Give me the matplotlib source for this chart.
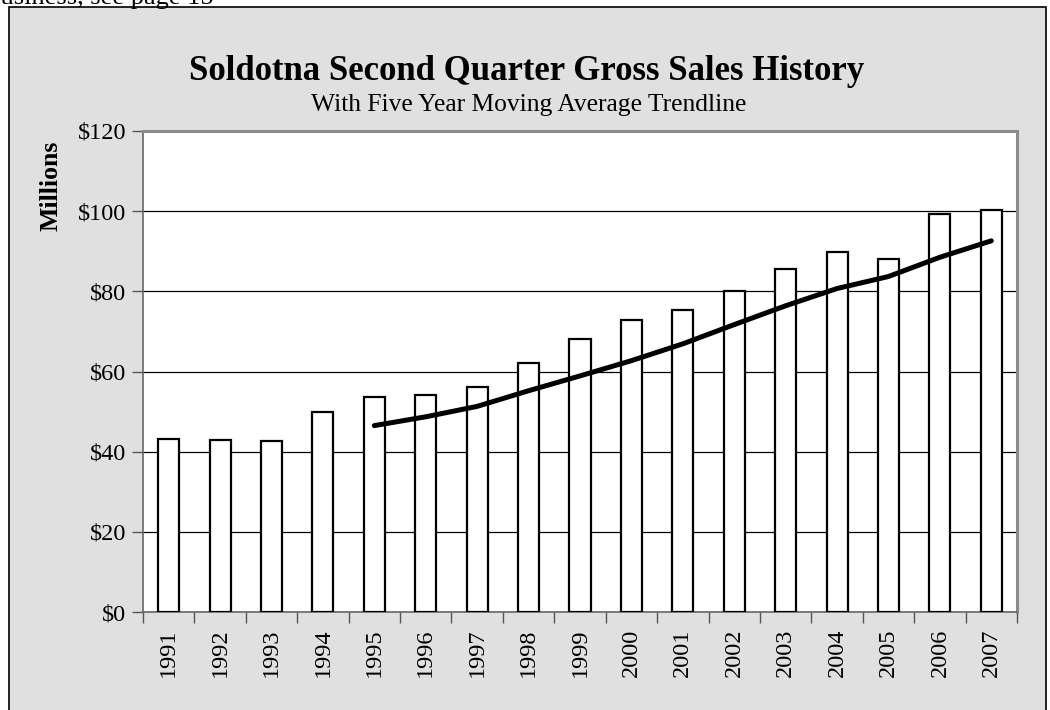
import numpy as np
import matplotlib.pyplot as plt
from matplotlib.patches import Rectangle

plt.rcParams['font.family'] = ['Liberation Serif', 'DejaVu Serif']

# second quarter gross sales, millions of dollars
years = ['1991', '1992', '1993', '1994', '1995', '1996', '1997', '1998', '1999',
         '2000', '2001', '2002', '2003', '2004', '2005', '2006', '2007']
sales = [43.2, 42.9, 42.7, 49.8, 53.7, 54.2, 56.2, 62.0, 68.2,
         72.8, 75.3, 80.0, 85.5, 89.7, 88.0, 99.4, 100.2]

# five year moving average, starts at 1995
trend_years = years[4:]
trend = [46.5, 48.7, 51.3, 55.2, 58.9, 62.7, 66.9, 71.7, 76.4, 80.7, 83.7, 88.5, 92.6]

y_ticks = [0, 20, 40, 60, 80, 100, 120]
y_labels = ['$0', '$20', '$40', '$60', '$80', '$100', '$120']

W, H = 1050, 710
fig = plt.figure(figsize=(W / 100, H / 100), dpi=100)
fig.patch.set_facecolor('white')

# grey chart frame, runs off the bottom of the page
fig.patches.append(Rectangle((9 / W, -0.05), (1046 - 9) / W, 1.05 - 7 / H,
                             transform=fig.transFigure, facecolor='#e0e0e0',
                             edgecolor='black', lw=1.2, zorder=-5))

# cut-off text from the page above
fig.text(-17 / W, 1 - 4 / H, 'Business, see page 15', fontsize=19, va='baseline', ha='left')

ax = fig.add_axes([143 / W, 1 - 612 / H, (1017 - 143) / W, (612 - 131) / H])
ax.set_zorder(2)
ax.set_facecolor('white')

x = np.arange(len(years))
ax.bar(x, sales, width=0.41, color='white', edgecolor='black', lw=1.6, zorder=3)
xt = np.arange(len(trend_years)) + 4
ax.plot(xt, trend, color='black', lw=3.6, solid_capstyle='round', zorder=4)

ax.set_xlim(-0.5, len(years) - 0.5)
ax.set_ylim(0, 120)
ax.set_yticks(y_ticks)
ax.set_yticklabels(y_labels, fontsize=17.5)
ax.yaxis.grid(True, color='black', lw=0.9)
ax.set_axisbelow(True)

# tick marks sit between categories, labels at centres
ax.set_xticks(np.arange(len(years) + 1) - 0.5)
ax.set_xticklabels([])
ax.set_xticks(x, minor=True)
ax.set_xticklabels(years, minor=True, rotation=90, fontsize=17.5)
ax.tick_params(axis='x', which='minor', length=0, pad=12)
ax.tick_params(axis='x', which='major', length=8, width=1, color='#555555', direction='out')
ax.tick_params(axis='y', length=8, width=1, color='#555555', direction='out', pad=4)

for side in ['left', 'bottom']:
    ax.spines[side].set_color('#666666')
    ax.spines[side].set_linewidth(1.2)
for side in ['top', 'right']:
    ax.spines[side].set_color('#8c8c8c')
    ax.spines[side].set_linewidth(2.2)

fig.text(51 / W, 1 - 186 / H, 'Millions', rotation=90, fontsize=18.5, fontweight='bold',
         ha='center', va='center')
fig.text(527 / W, 1 - 80 / H, 'Soldotna Second Quarter Gross Sales History', fontsize=25,
         fontweight='bold', ha='center', va='baseline')
fig.text(529 / W, 1 - 111 / H, 'With Five Year Moving Average Trendline', fontsize=18.4,
         ha='center', va='baseline')

fig.savefig('out.png', dpi=100)
